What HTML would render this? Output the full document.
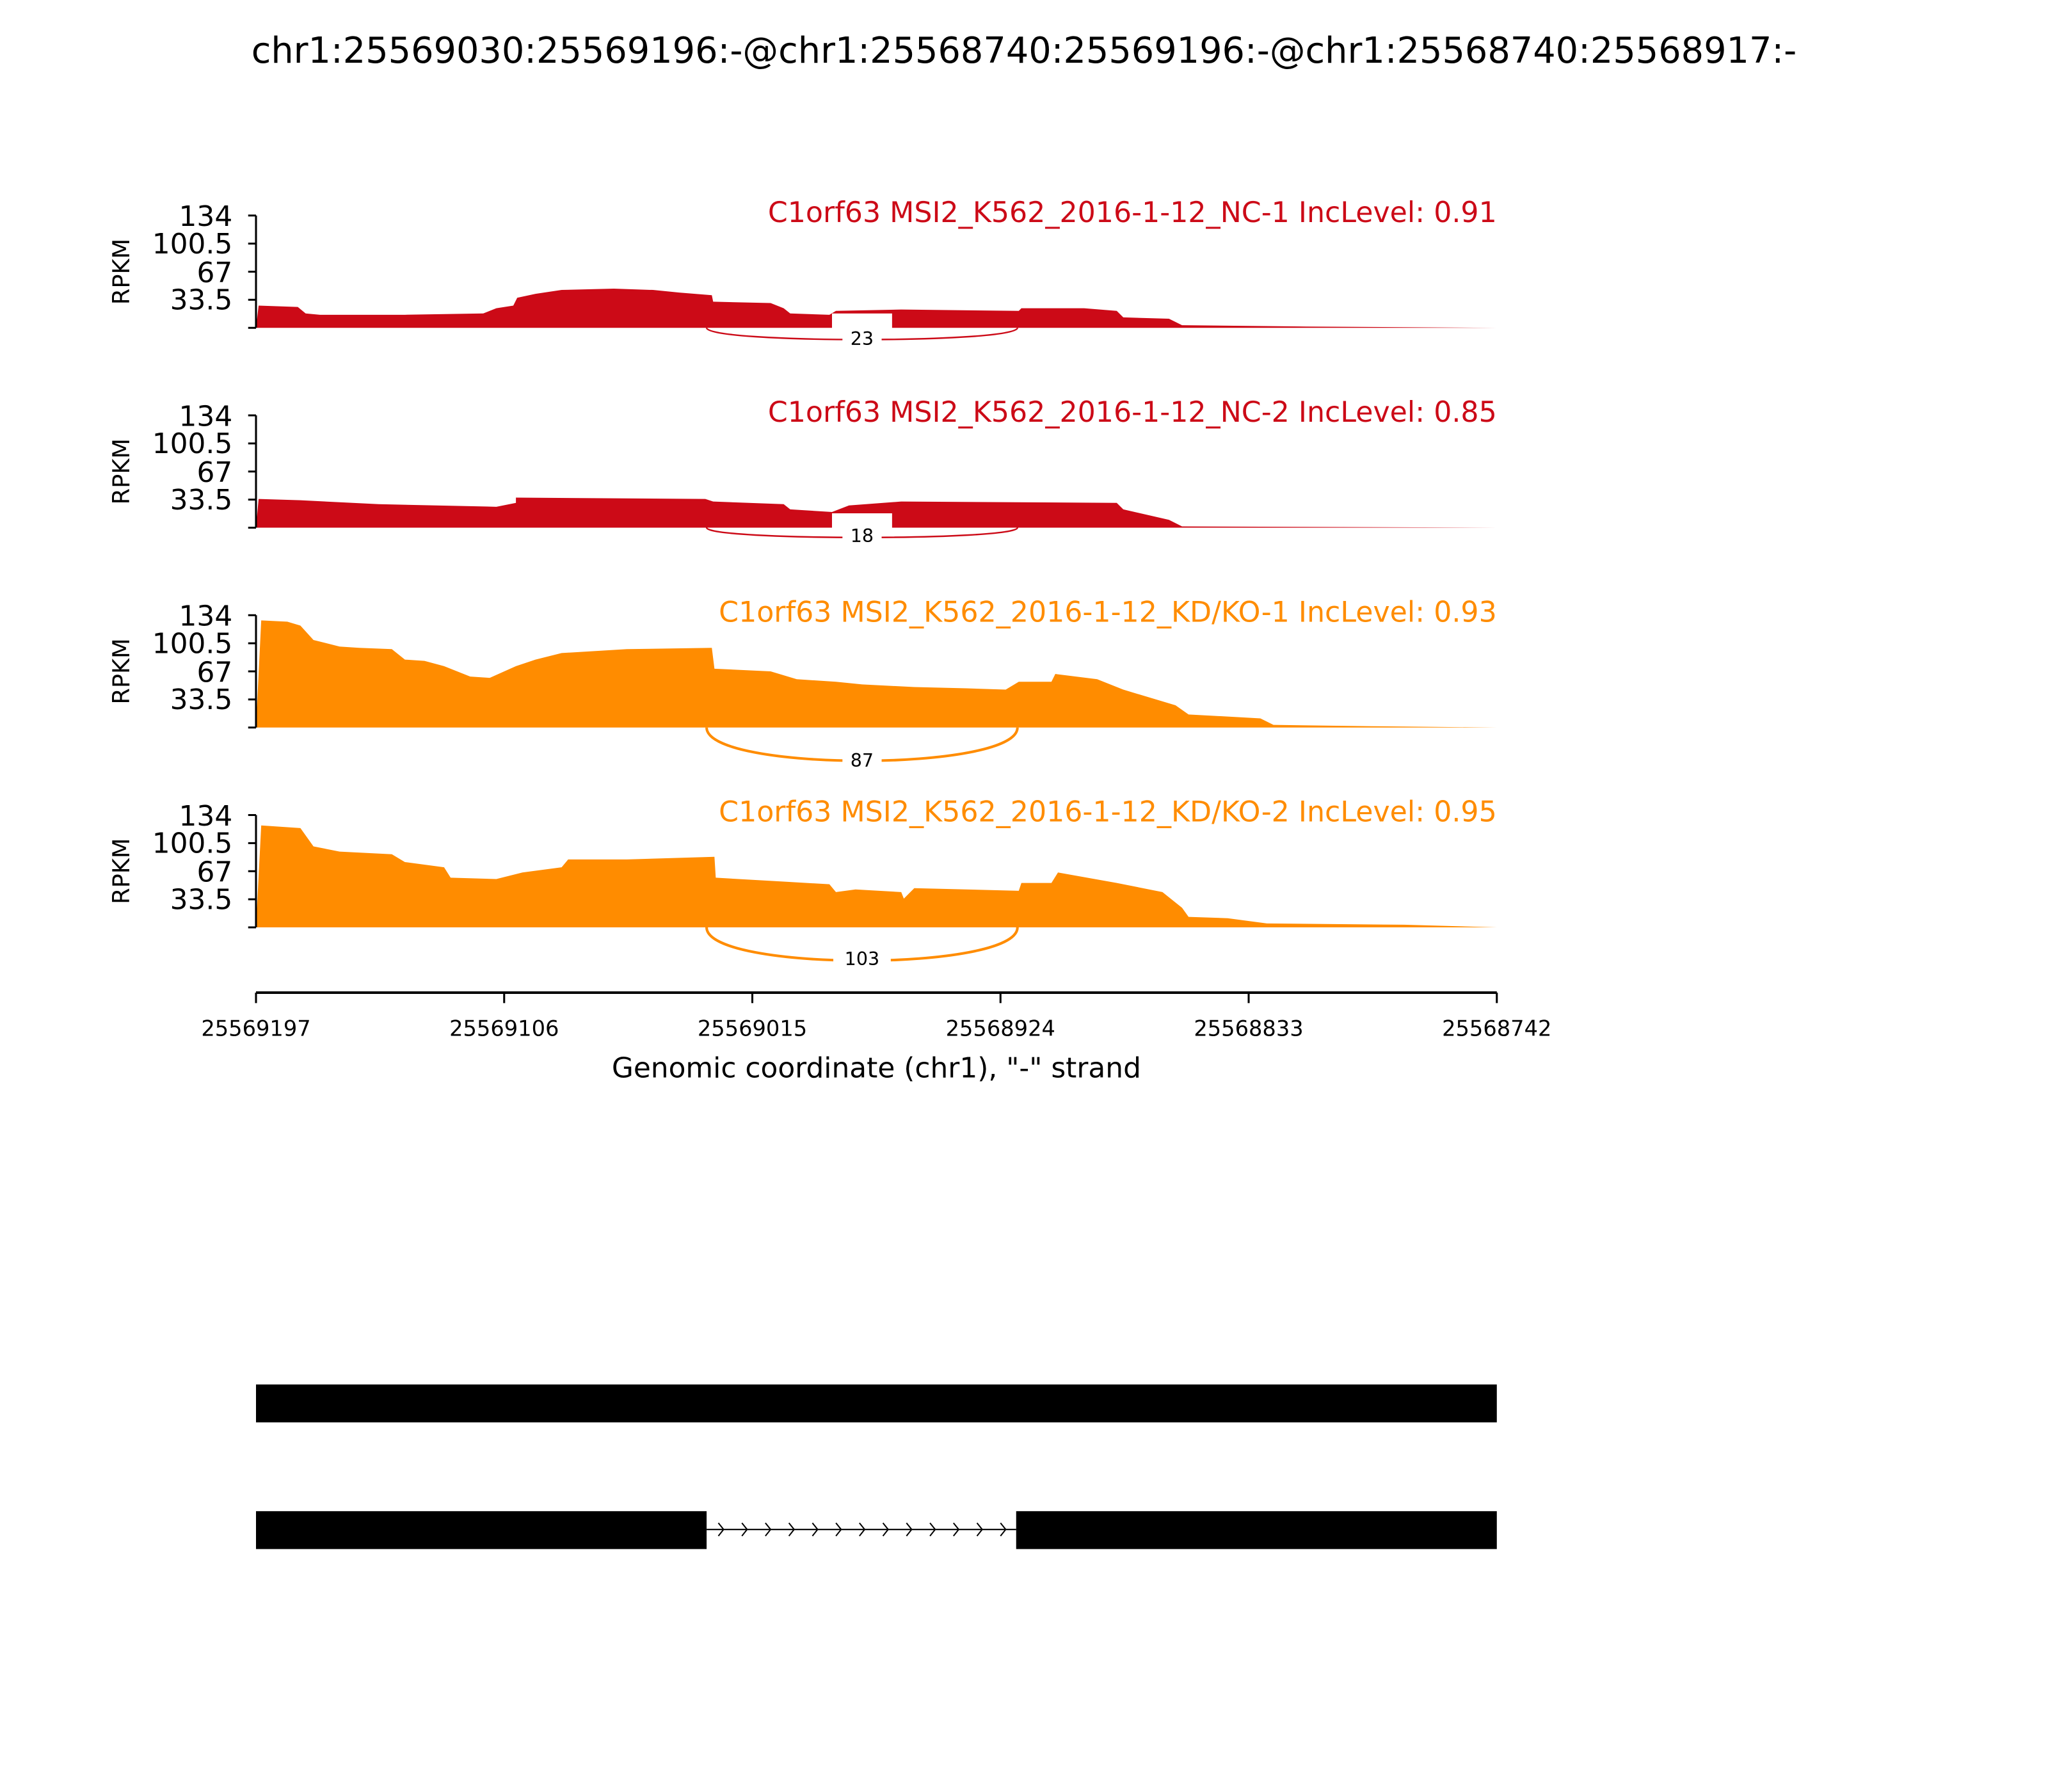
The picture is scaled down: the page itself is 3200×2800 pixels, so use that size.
<!DOCTYPE html>
<html><head><meta charset="utf-8"><style>body{margin:0;background:#fff}svg{display:block}</style></head><body>
<svg width="3200" height="2800" viewBox="0 0 1568 1372" preserveAspectRatio="none" xmlns="http://www.w3.org/2000/svg" font-family="'DejaVu Sans','Liberation Sans',sans-serif">
<text x="784" y="48" font-size="27.3" text-anchor="middle">chr1:25569030:25569196:-@chr1:25568740:25569196:-@chr1:25568740:25568917:-</text>

<!-- panel 1 -->
<g>
<polygon fill="#cc0a17" points="196,251 198,234 228,235 234,240 245,241 310,241 370,240 380,236 393,234 396,228 410,225 430,222 470,221 500,222 520,224 545,226 546,231 590,232 600,236 605,240 635,241 640,238 690,237 780,238 782,236 830,236 855,238 860,243 895,244 905,249 1000,250 1146,251"/>
<rect x="637" y="240" width="46" height="28" fill="#fff"/>
<path d="M541,251 C541,263 779,263 779,251" fill="none" stroke="#cc0a17" stroke-width="1.2"/>
<rect x="645" y="252" width="30" height="14" fill="#fff"/>
<text x="660" y="264" font-size="14" text-anchor="middle">23</text>
<text x="1146" y="170" font-size="21.7" fill="#cc0a17" text-anchor="end">C1orf63 MSI2_K562_2016-1-12_NC-1 IncLevel: 0.91</text>
</g>
<!-- panel 2 -->
<g>
<polygon fill="#cc0a17" points="196,404 198,382 230,383 290,386 380,388 395,385 395,381 540,382 546,384 600,386 605,390 637,392 650,387 690,384 855,385 860,390 895,398 905,403 1146,404"/>
<rect x="637" y="393" width="46" height="26" fill="#fff"/>
<path d="M541,404 C541,414 779,414 779,404" fill="none" stroke="#cc0a17" stroke-width="1.2"/>
<rect x="645" y="403" width="30" height="14" fill="#fff"/>
<text x="660" y="415" font-size="14" text-anchor="middle">18</text>
<text x="1146" y="323" font-size="21.7" fill="#cc0a17" text-anchor="end">C1orf63 MSI2_K562_2016-1-12_NC-2 IncLevel: 0.85</text>
</g>
<!-- panel 3 -->
<g>
<polygon fill="#ff8c00" points="196,557 200,475 220,476 230,479 240,490 260,495 275,496 300,497 310,505 325,506 340,510 360,518 375,519 395,510 410,505 430,500 480,497 545,496 547,512 590,514 610,520 640,522 660,524 700,526 740,527 770,528 780,522 805,522 808,516 840,520 860,528 900,540 910,547 965,550 975,555 1050,556 1146,557"/>
<path d="M541,557 C541,591 779,591 779,557" fill="none" stroke="#ff8c00" stroke-width="2"/>
<rect x="645" y="574" width="30" height="16" fill="#fff"/>
<text x="660" y="587" font-size="14" text-anchor="middle">87</text>
<text x="1146" y="476" font-size="21.7" fill="#ff8c00" text-anchor="end">C1orf63 MSI2_K562_2016-1-12_KD/KO-1 IncLevel: 0.93</text>
</g>
<!-- panel 4 -->
<g>
<polygon fill="#ff8c00" points="196,710 200,632 230,634 240,648 260,652 300,654 310,660 340,664 345,672 380,673 400,668 430,664 435,658 480,658 547,656 548,672 600,675 635,677 640,683 655,681 690,683 692,688 700,680 780,682 782,676 805,676 810,668 855,676 890,683 905,695 910,702 940,703 970,707 1075,708 1146,710"/>
<path d="M541,710 C541,744 779,744 779,710" fill="none" stroke="#ff8c00" stroke-width="2"/>
<rect x="638" y="726" width="44" height="16" fill="#fff"/>
<text x="660" y="739" font-size="14" text-anchor="middle">103</text>
<text x="1146" y="629" font-size="21.7" fill="#ff8c00" text-anchor="end">C1orf63 MSI2_K562_2016-1-12_KD/KO-2 IncLevel: 0.95</text>
</g>

<!-- y axes -->
<g stroke="#000" stroke-width="1.5" fill="none">
<path d="M196,165V251 M190,165H196 M190,186.5H196 M190,208H196 M190,229.5H196 M190,251H196"/>
<path d="M196,318V404 M190,318H196 M190,339.5H196 M190,361H196 M190,382.5H196 M190,404H196"/>
<path d="M196,471V557 M190,471H196 M190,492.5H196 M190,514H196 M190,535.5H196 M190,557H196"/>
<path d="M196,624V710 M190,624H196 M190,645.5H196 M190,667H196 M190,688.5H196 M190,710H196"/>
</g>
<g font-size="21.5" text-anchor="end">
<text x="178" y="173">134</text><text x="178" y="194">100.5</text><text x="178" y="216">67</text><text x="178" y="237">33.5</text>
<text x="178" y="326">134</text><text x="178" y="347">100.5</text><text x="178" y="369">67</text><text x="178" y="390">33.5</text>
<text x="178" y="479">134</text><text x="178" y="500">100.5</text><text x="178" y="522">67</text><text x="178" y="543">33.5</text>
<text x="178" y="632">134</text><text x="178" y="653">100.5</text><text x="178" y="675">67</text><text x="178" y="696">33.5</text>
</g>
<g font-size="18" text-anchor="middle">
<text transform="translate(99,208) rotate(-90)">RPKM</text>
<text transform="translate(99,361) rotate(-90)">RPKM</text>
<text transform="translate(99,514) rotate(-90)">RPKM</text>
<text transform="translate(99,667) rotate(-90)">RPKM</text>
</g>

<!-- x axis -->
<g stroke="#000" stroke-width="1.5">
<line x1="196" y1="760" x2="1146" y2="760" stroke-width="2"/>
<line x1="196" y1="760" x2="196" y2="768"/><line x1="386" y1="760" x2="386" y2="768"/><line x1="576" y1="760" x2="576" y2="768"/>
<line x1="766" y1="760" x2="766" y2="768"/><line x1="956" y1="760" x2="956" y2="768"/><line x1="1146" y1="760" x2="1146" y2="768"/>
</g>
<g font-size="16.5" text-anchor="middle">
<text x="196" y="793">25569197</text><text x="386" y="793">25569106</text><text x="576" y="793">25569015</text>
<text x="766" y="793">25568924</text><text x="956" y="793">25568833</text><text x="1146" y="793">25568742</text>
</g>
<text x="671" y="825" font-size="21.5" text-anchor="middle">Genomic coordinate (chr1), "-" strand</text>

<!-- gene tracks -->
<rect x="196" y="1060" width="950" height="29" fill="#000"/>
<rect x="196" y="1157" width="345" height="29" fill="#000"/>
<rect x="778" y="1157" width="368" height="29" fill="#000"/>
<line x1="541" y1="1171" x2="778" y2="1171" stroke="#000" stroke-width="1"/>
<path fill="none" stroke="#000" stroke-width="1" d="M550,1166l4,5l-4,5 M568,1166l4,5l-4,5 M586,1166l4,5l-4,5 M604,1166l4,5l-4,5 M622,1166l4,5l-4,5 M640,1166l4,5l-4,5 M658,1166l4,5l-4,5 M676,1166l4,5l-4,5 M694,1166l4,5l-4,5 M712,1166l4,5l-4,5 M730,1166l4,5l-4,5 M748,1166l4,5l-4,5 M766,1166l4,5l-4,5"/>
</svg>
</body></html>
